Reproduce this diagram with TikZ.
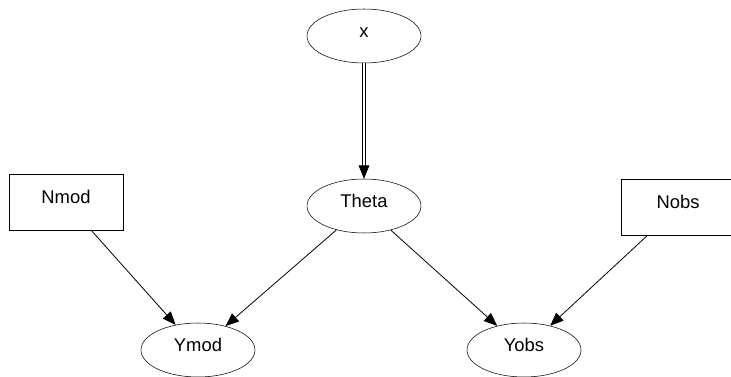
\documentclass[tikz,border=0pt]{standalone}
\usepackage{fontspec}
\setmainfont{Liberation Sans}
\usetikzlibrary{shapes.geometric,arrows.meta}
\begin{document}
\begin{tikzpicture}[
        x=0.75pt, y=-0.75pt,
        font=\fontsize{13.8}{16}\selectfont,
        rv/.style={draw, ellipse, minimum width=85.5pt, minimum height=40.5pt, inner sep=0pt, text height=10pt, text depth=7.6pt},
        cst/.style={draw, rectangle, minimum width=85.5pt, minimum height=42pt, inner sep=0pt, text height=10pt, text depth=7.6pt},
        ed/.style={-{Triangle[length=10pt,width=8pt]}, semithick},
        dd/.style={double, double distance=1.6pt, semithick, shorten >=9pt}
      ]
      \useasboundingbox (0,0) rectangle (731,377);
      \node[rv] (x) at (364,36) {x};
      \node[rv] (theta) at (364,206) {Theta};
      \node[cst] (nmod) at (66,202) {Nmod};
      \node[cst] (nobs) at (678,207) {Nobs};
      \node[rv] (ymod) at (198,350) {Ymod};
      \node[rv] (yobs) at (524,350) {Yobs};
      % double edge, tip drawn on its own
      \draw[dd] (x) -- (theta);
      \draw[ed, shorten <=78pt] (x) -- (theta);
      \draw[ed] (nmod) -- (ymod);
      \draw[ed] (theta) -- (ymod);
      \draw[ed] (theta) -- (yobs);
      \draw[ed] (nobs) -- (yobs);
    \end{tikzpicture}
\end{document}
